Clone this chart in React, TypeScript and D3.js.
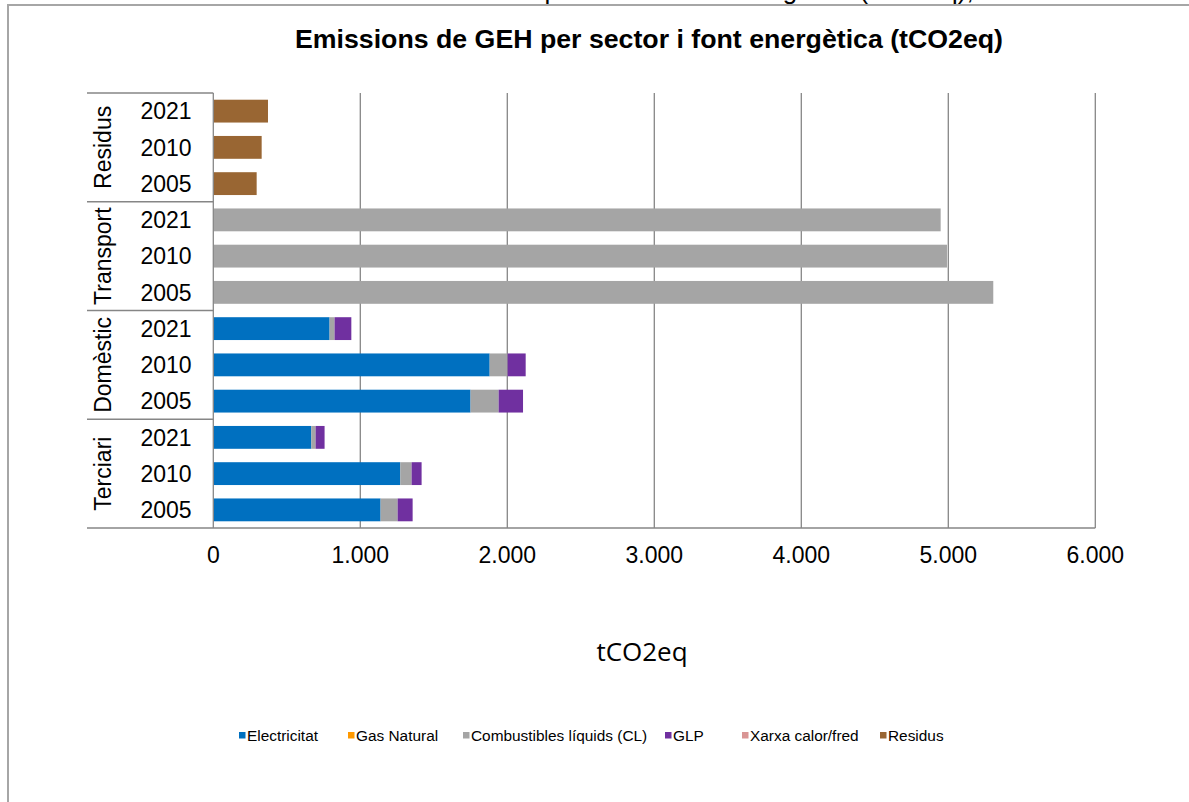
import React from "react";
import * as d3 from "d3";

const sectors = ["Residus", "Transport", "Domèstic", "Terciari"];
const years = ["2021", "2010", "2005"];
const seriesNames = ["Electricitat", "Gas Natural", "Combustibles líquids (CL)", "GLP", "Xarxa calor/fred", "Residus"];
const seriesColors = ["#0070C0", "#FF9900", "#A5A5A5", "#7030A0", "#D99594", "#996633"];
// values per series, ordered by category (Residus 2021..2005, Transport 2021..2005, Domèstic 2021..2005, Terciari 2021..2005)
const electricitat = [0, 0, 0, 0, 0, 0, 791, 1880, 1750, 667, 1272, 1138];
const gasNatural = [0, 0, 0, 0, 0, 0, 0, 0, 0, 0, 0, 0];
const combustibles = [0, 0, 0, 4948, 4991, 5306, 34, 122, 191, 29, 77, 116];
const glp = [0, 0, 0, 0, 0, 0, 114, 123, 166, 61, 68, 102];
const xarxa = [0, 0, 0, 0, 0, 0, 0, 0, 0, 0, 0, 0];
const residus = [372, 329, 295, 0, 0, 0, 0, 0, 0, 0, 0, 0];
const xTicks = [0, 1000, 2000, 3000, 4000, 5000, 6000];
const title = "Emissions de GEH per sector i font energètica (tCO2eq)";
const axisTitle = "tCO2eq";

export default function App() {
  const W = 1189, H = 802;
  const left = 213.3, right = 1095.3, top = 93, bottom = 528;
  const x = d3.scaleLinear().domain([0, 6000]).range([left, right]);
  const cats = sectors.flatMap((s) => years.map((y) => `${s}|${y}`));
  const y = d3.scaleBand().domain(cats).range([top, bottom]).paddingInner(0.37).paddingOuter(0.185);
  const seriesVals = [electricitat, gasNatural, combustibles, glp, xarxa, residus];
  const rows = cats.map((c, i) => {
    const r: any = { cat: c };
    seriesNames.forEach((n, k) => (r[n] = seriesVals[k][i]));
    return r;
  });
  const stacked = d3.stack().keys(seriesNames)(rows);
  const fmt = (v: number) => d3.format(",")(v).replace(/,/g, ".");
  const groupH = y.step() * years.length;
  const legendX = [239, 348, 463, 665, 742, 880];
  const font = "'Liberation Sans', Arial, sans-serif";

  return (
    <svg width={W} height={H} style={{ position: "absolute", left: 0, top: 0, background: "#fff" }} fontFamily={font}>
      <rect x={0} y={0} width={W} height={H} fill="#fff" />
      {/* cut-off caption above the frame */}
      <text x={319} y={-1} fontSize={26} fill="#000">{title + ","}</text>
      <rect x={8} y={5} width={W + 20} height={H + 20} fill="#fff" stroke="#A6A6A6" strokeWidth={2} />
      <text x={295} y={48} fontSize={25} fontWeight="bold" fill="#000" textLength={708} lengthAdjust="spacingAndGlyphs">{title}</text>
      {/* gridlines */}
      {xTicks.slice(1).map((t) => (
        <line key={t} x1={x(t)} x2={x(t)} y1={top} y2={bottom} stroke="#868686" strokeWidth={1.3} />
      ))}
      {/* bars */}
      {stacked.map((s, k) => (
        <g key={s.key} fill={seriesColors[k]}>
          {s.map((d, i) =>
            d[1] - d[0] > 0 ? (
              <rect key={i} x={x(d[0])} y={y(cats[i])} width={x(d[1]) - x(d[0])} height={y.bandwidth()} />
            ) : null
          )}
        </g>
      ))}
      {/* axes */}
      <line x1={left} x2={left} y1={top} y2={bottom} stroke="#868686" strokeWidth={1.3} />
      <line x1={87} x2={right} y1={bottom} y2={bottom} stroke="#868686" strokeWidth={1.3} />
      {sectors.map((s, gi) => (
        <line key={s} x1={87} x2={left} y1={top + gi * groupH} y2={top + gi * groupH} stroke="#868686" strokeWidth={1.3} />
      ))}
      {cats.map((c) => (
        <text key={c} x={166} y={(y(c) as number) + y.bandwidth() / 2} dy="0.36em" textAnchor="middle" fontSize={23} fill="#000">
          {c.split("|")[1]}
        </text>
      ))}
      {sectors.map((s, gi) => {
        const cy = top + gi * groupH + groupH / 2;
        return (
          <text key={s} transform={`translate(103,${cy}) rotate(-90)`} dy="0.36em" textAnchor="middle" fontSize={23} fill="#000">
            {s}
          </text>
        );
      })}
      {xTicks.map((t) => (
        <text key={t} x={x(t)} y={563} textAnchor="middle" fontSize={23} fill="#000">
          {fmt(t)}
        </text>
      ))}
      <text x={642} y={661} textAnchor="middle" fontSize={26} fontFamily="'Open Sans', sans-serif" fill="#000">{axisTitle}</text>
      {/* legend */}
      {seriesNames.map((n, k) => (
        <g key={n}>
          <rect x={legendX[k]} y={732} width={6.5} height={6.5} fill={seriesColors[k]} />
          <text x={legendX[k] + 8} y={740.5} fontSize={15.4} fill="#000">{n}</text>
        </g>
      ))}
    </svg>
  );
}
